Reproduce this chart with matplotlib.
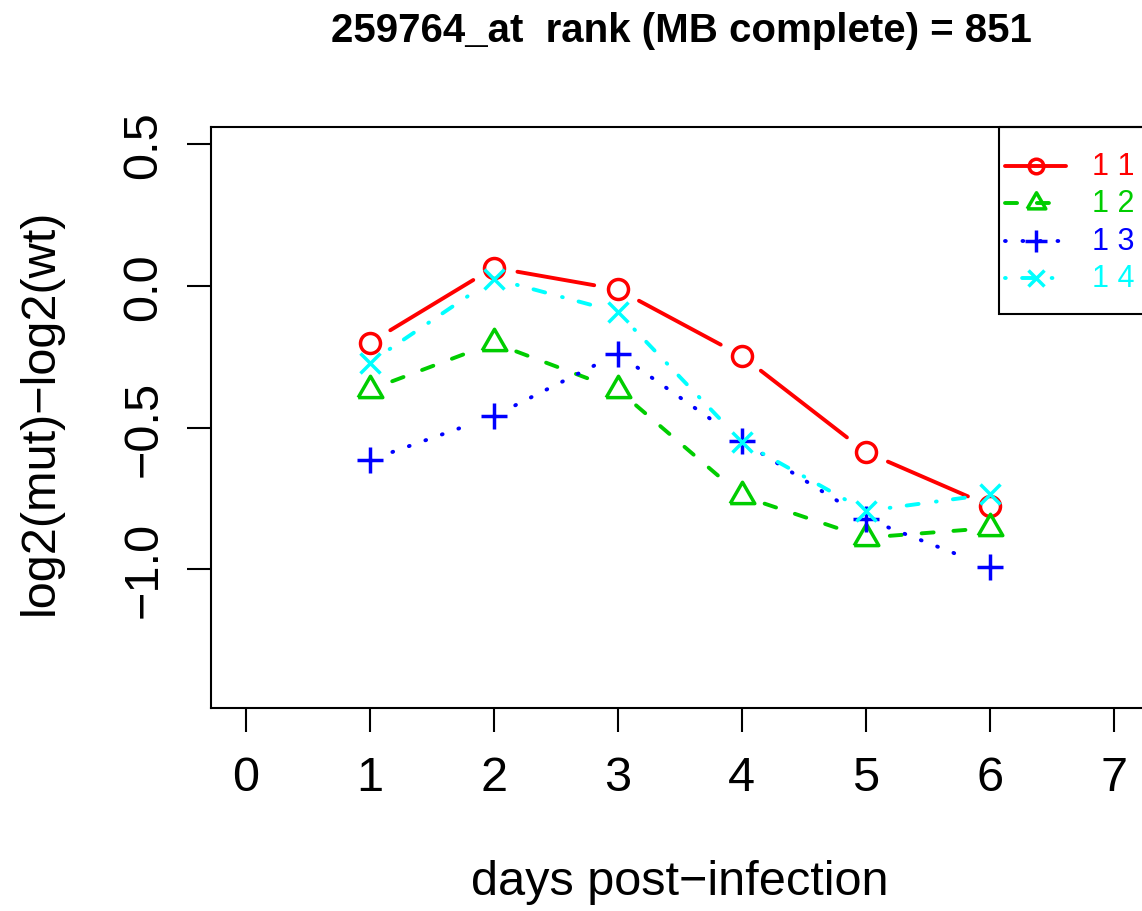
import numpy as np
import matplotlib
matplotlib.use('Agg')
import matplotlib.pyplot as plt
from matplotlib.patches import Rectangle

# ---------------- data ----------------
days = [1, 2, 3, 4, 5, 6]
series_labels = ['1 1', '1 2', '1 3', '1 4']
s11 = [-0.200, 0.065, -0.012, -0.247, -0.586, -0.776]
s12 = [-0.366, -0.201, -0.366, -0.741, -0.888, -0.854]
s13 = [-0.614, -0.459, -0.239, -0.547, -0.821, -0.992]
s14 = [-0.270, 0.026, -0.092, -0.550, -0.794, -0.735]
xticks = [0, 1, 2, 3, 4, 5, 6, 7]
yticks = [-1.0, -0.5, 0.0, 0.5]
ytick_labels = ['\u22121.0', '\u22120.5', '0.0', '0.5']
title = '259764_at  rank (MB complete) = 851'
xlabel = 'days post\u2212infection'
ylabel = 'log2(mut)\u2212log2(wt)'

# ---------------- style ----------------
plt.rcParams['font.family'] = ['Liberation Sans', 'DejaVu Sans']
W, H = 1142, 912
colors = ['#FF0000', '#00CD00', '#0000FF', '#00FFFF']
tri = [(-1, -0.577), (1, -0.577), (0, 1.155), (-1, -0.577)]
markers = ['o', tri, '+', 'x']
msizes = [14.4, 20.5, 18.7, 14.4]
leg_msizes = [10.5, 15.5, 16.0, 12.0]
LW = 2.8
MEW = 2.5
styles = ['-', (0, (3.1, 5.1)), (0, (0.2, 4.3)), (0, (0.2, 4.2, 3.1, 4.5))]
GAP = 24  # px gap around points (R type="b")

fig = plt.figure(figsize=(W / 100, H / 100), dpi=100)
ax = fig.add_axes([211 / W, 1 - 709 / H, (1148.7 - 211) / W, (709 - 128) / H])
ax.set_xlim(-0.28, 7.28)
ax.set_ylim(-1.489, 0.561)

for sp in ax.spines.values():
    sp.set_linewidth(1.5)
ax.set_xticks(xticks)
ax.set_xticklabels([str(t) for t in xticks])
ax.set_yticks(yticks)
ax.set_yticklabels(ytick_labels)
ax.tick_params(axis='both', length=17.3, width=1.5, labelsize=35, direction='out')
ax.tick_params(axis='x', pad=16.9)
ax.tick_params(axis='y', pad=15.0)
for lab in ax.get_yticklabels():
    lab.set_rotation(90)
    lab.set_va('center')
    lab.set_ha('right')

all_series = [s11, s12, s13, s14]
inv = ax.transData.inverted()
for vals, c, m, ms, ls in zip(all_series, colors, markers, msizes, styles):
    pts = ax.transData.transform(np.column_stack([days, vals]))
    for i in range(len(days) - 1):
        p0, p1 = pts[i], pts[i + 1]
        d = p1 - p0
        L = np.hypot(*d)
        if L <= 2 * GAP:
            continue
        u = d / L
        q = inv.transform(np.array([p0 + u * GAP, p1 - u * GAP]))
        ax.plot(q[:, 0], q[:, 1], color=c, lw=LW, linestyle=ls,
                dash_capstyle='round', solid_capstyle='round')
    ax.plot(days, vals, linestyle='none', marker=m, ms=ms, mew=MEW,
            mec=c, mfc='none', color=c)

# titles / labels
fig.text(681 / W, 1 - 31 / H, title, fontsize=29, fontweight='bold',
         ha='center', va='center')
fig.text(680 / W, 1 - 883 / H, xlabel, fontsize=35, ha='center', va='center')
fig.text(40 / W, 1 - 412 / H, ylabel, fontsize=35, ha='center', va='center',
         rotation=90)

# legend (drawn in pixel overlay)
lax = fig.add_axes([0, 0, 1, 1])
lax.set_xlim(0, W)
lax.set_ylim(H, 0)
lax.axis('off')
lax.add_patch(Rectangle((999, 128), 200, 187, fill=False, lw=1.5,
                        edgecolor='black', clip_on=False))
rows = [167, 204, 242, 279]
for lbl, c, m, ms, ls, y in zip(series_labels, colors, markers, leg_msizes, styles, rows):
    lax.plot([1005, 1066], [y, y], color=c, lw=LW, linestyle=ls,
             dash_capstyle='round', solid_capstyle='round')
    lax.plot([1035.5], [y], linestyle='none', marker=m, ms=ms, mew=MEW,
             mec=c, mfc='none')
    lax.text(1092, y, lbl, color=c, fontsize=22, ha='left', va='center')

fig.savefig('out.png', dpi=100)
